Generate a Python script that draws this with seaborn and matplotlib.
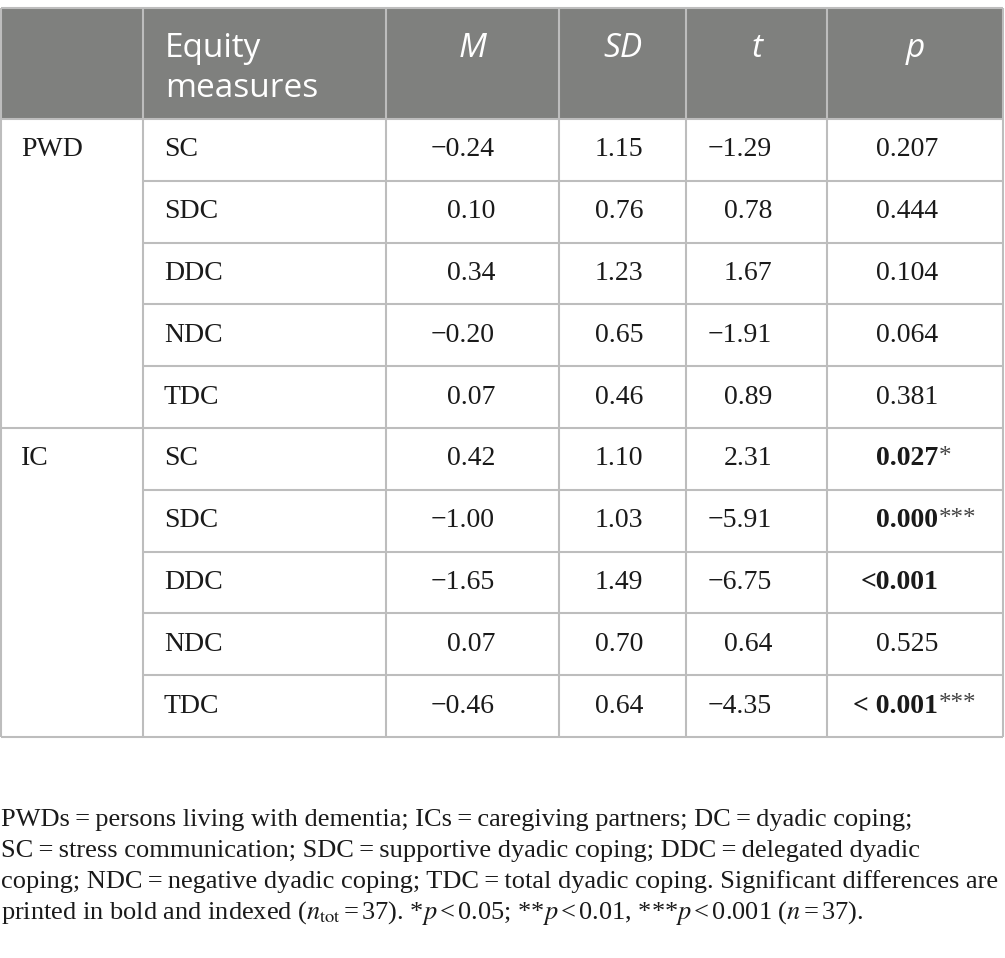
import matplotlib
matplotlib.use('Agg')
import matplotlib.pyplot as plt
import seaborn as sns
from matplotlib.patches import Rectangle

sns.set_theme(style='white')
plt.rcParams['mathtext.fontset'] = 'stix'

# table content
groups = ['PWD', 'IC']
measures = ['SC', 'SDC', 'DDC', 'NDC', 'TDC']
m_vals = ['\u22120.24', '0.10', '0.34', '\u22120.20', '0.07',
          '0.42', '\u22121.00', '\u22121.65', '0.07', '\u22120.46']
sd_vals = ['1.15', '0.76', '1.23', '0.65', '0.46',
           '1.10', '1.03', '1.49', '0.70', '0.64']
t_vals = ['\u22121.29', '0.78', '1.67', '\u22121.91', '0.89',
          '2.31', '\u22125.91', '\u22126.75', '0.64', '\u22124.35']
p_vals = ['0.207', '0.444', '0.104', '0.064', '0.381',
          '0.027', '0.000', '<0.001', '0.525', '< 0.001']
p_stars = ['', '', '', '', '', '*', '***', '', '', '***']
p_bold = [False] * 5 + [True, True, True, False, True]
headers = ['', ['Equity', 'measures'], 'M', 'SD', 't', 'p']

footnote = [
    'PWDs\u2009=\u2009persons living with dementia; ICs\u2009=\u2009caregiving partners; DC\u2009=\u2009dyadic coping;',
    'SC\u2009=\u2009stress communication; SDC\u2009=\u2009supportive dyadic coping; DDC\u2009=\u2009delegated dyadic',
    'coping; NDC\u2009=\u2009negative dyadic coping; TDC\u2009=\u2009total dyadic coping. Significant differences are',
    r'printed in bold and indexed ($n_{\mathrm{tot}}$$\,$=$\,$37). *$p$$\,$<$\,$0.05; **$p$$\,$<$\,$0.01, ***$p$$\,$<$\,$0.001 ($n$$\,$=$\,$37).',
]

# layout in pixels
W, H = 1005, 958
col_x = [1, 143, 386, 559, 686, 827, 1003]
top, head_bot, row_h = 8, 119, 61.8
head_color = '#7f807e'
line_color = '#bdbdbd'
serif = 'Liberation Serif'
sans = 'Open Sans'

fig = plt.figure(figsize=(W / 100, H / 100), dpi=100)
ax = fig.add_axes([0, 0, 1, 1])
ax.set_xlim(0, W)
ax.set_ylim(H, 0)
ax.axis('off')

# header band
ax.add_patch(Rectangle((col_x[0], top), col_x[-1] - col_x[0], head_bot - top,
                       facecolor=head_color, edgecolor='none'))
n_rows = len(m_vals)
bottom = head_bot + n_rows * row_h

# grid lines
ax.hlines([top, head_bot, bottom], col_x[0], col_x[-1], color=line_color, lw=1.5)
for i in range(1, n_rows):
    y = head_bot + i * row_h
    x0 = col_x[0] if i == len(measures) else col_x[1]
    ax.hlines(y, x0, col_x[-1], color=line_color, lw=1.5)
ax.vlines(col_x, top, bottom, color=line_color, lw=1.5)

# header text
for k, word in enumerate(headers[1]):
    ax.text(col_x[1] + 22, 57 + k * 40, word, color='white', fontsize=24,
            family=sans, va='baseline', ha='left')
for j in range(2, 6):
    xc = (col_x[j] + col_x[j + 1]) / 2
    ax.text(xc, 57, headers[j], color='white', fontsize=24, family=sans,
            style='italic', ha='center', va='baseline')

# body
fs = 20
for i in range(n_rows):
    yc = head_bot + (i + 0.5) * row_h
    if i % len(measures) == 0:
        ax.text(21, yc, groups[i // len(measures)], fontsize=fs, family=serif,
                va='center', ha='left', color='#1a1a1a')
    ax.text(164, yc, measures[i % len(measures)], fontsize=fs, family=serif,
            va='center', ha='left', color='#1a1a1a')
    ax.text(495, yc, m_vals[i], fontsize=fs, family=serif, va='center',
            ha='right', color='#1a1a1a')
    ax.text(643, yc, sd_vals[i], fontsize=fs, family=serif, va='center',
            ha='right', color='#1a1a1a')
    ax.text(772, yc, t_vals[i], fontsize=fs, family=serif, va='center',
            ha='right', color='#1a1a1a')
    ax.text(938, yc, p_vals[i], fontsize=fs, family=serif, va='center',
            ha='right', color='#1a1a1a',
            weight='bold' if p_bold[i] else 'normal')
    if p_stars[i]:
        ax.text(939, yc - 2, p_stars[i], fontsize=fs - 2, family=serif,
                va='center', ha='left', color='#444444')

# footnote
for k, line in enumerate(footnote):
    ax.text(1, 820 + k * 31, line, fontsize=19, family=serif,
            va='center', ha='left', color='#1a1a1a')

fig.savefig('out.png', dpi=100)
